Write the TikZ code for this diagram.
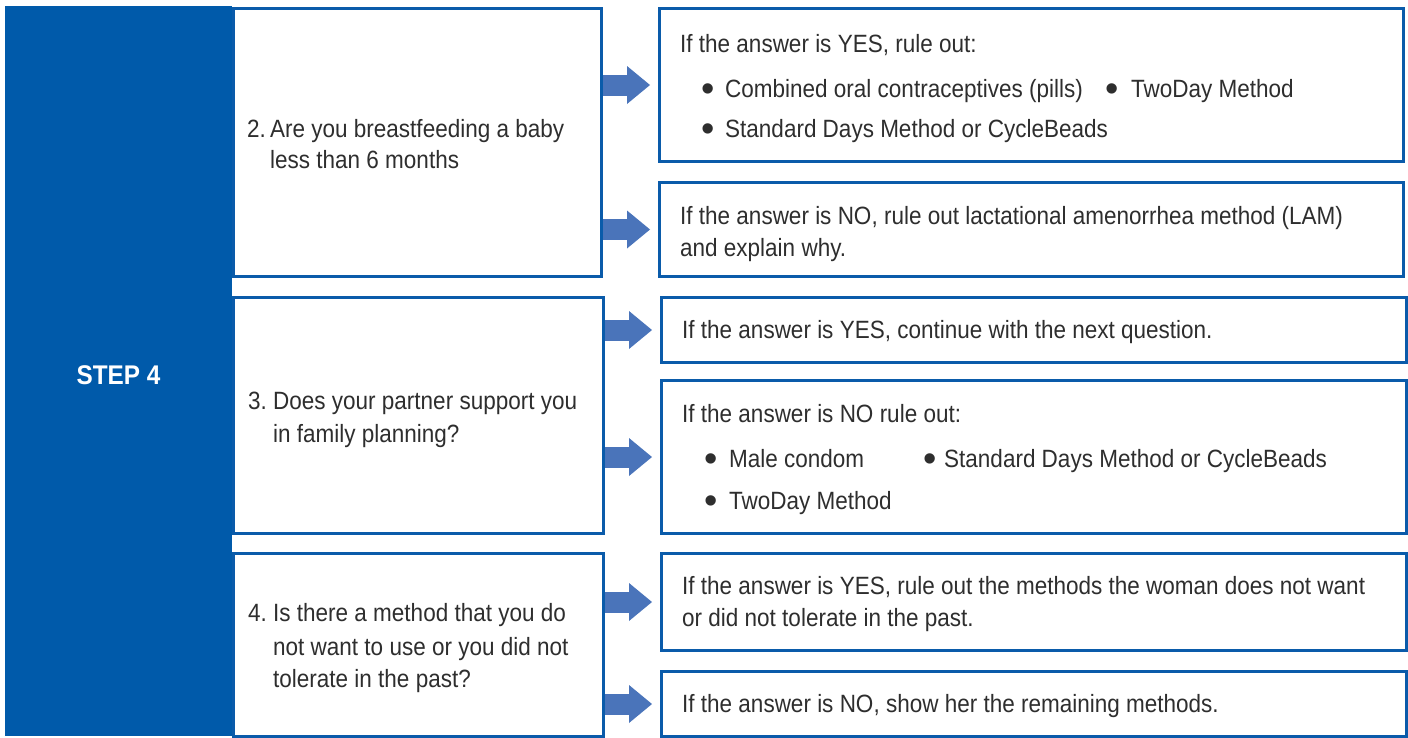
\documentclass[tikz,border=0pt]{standalone}
\usepackage{fontspec}
\setmainfont{Liberation Sans}[FakeStretch=0.9]
\newfontfamily\bulletfont{Liberation Sans}
\usetikzlibrary{arrows.meta}
\definecolor{panelblue}{HTML}{005AAA}
\definecolor{lineblue}{HTML}{0A5BAA}
\definecolor{arrowblue}{HTML}{4A74BA}
\definecolor{txtgray}{HTML}{2E2E2E}
\begin{document}
\begin{tikzpicture}[x=1pt,y=-1pt,
  box/.style={draw=lineblue, line width=3pt, fill=white, inner sep=0pt, anchor=north west},
  txt/.style={inner sep=0pt, anchor=base west, text=txtgray, font=\fontsize{25}{30}\selectfont},
  bul/.style={inner sep=0pt, anchor=base, text=txtgray, font=\bulletfont\fontsize{38}{38}\selectfont, yshift=-13.3pt},
  bigarrow/.style={draw=arrowblue, line width=21pt, -{Triangle[width=38pt,length=23pt,line width=0pt]}}]
\useasboundingbox (0,0) rectangle (1408,737);
% left panel
\node[fill=panelblue, inner sep=0pt, anchor=north west, minimum width=227pt, minimum height=730pt] (panel) at (5,6) {};
\node[inner sep=0pt, anchor=base, text=white, font=\fontsize{27}{30}\selectfont\bfseries] (step) at (118.5,384) {STEP 4};
% question boxes
\node[box, minimum width=368pt, minimum height=268pt] (q2) at (232,7) {};
\node[box, minimum width=370pt, minimum height=236pt] (q3) at (232,296) {};
\node[box, minimum width=370pt, minimum height=183pt] (q4) at (232,552) {};
% answer boxes
\node[box, minimum width=744pt, minimum height=153pt] (r1) at (658,7) {};
\node[box, minimum width=744pt, minimum height=94pt] (r2) at (658,181) {};
\node[box, minimum width=745pt, minimum height=65pt] (r3) at (660,296) {};
\node[box, minimum width=745pt, minimum height=153pt] (r4) at (660,379) {};
\node[box, minimum width=745pt, minimum height=97pt] (r5) at (660,552) {};
\node[box, minimum width=745pt, minimum height=65pt] (r6) at (660,670) {};
% arrows
\draw[bigarrow] (q2.east |- r1.west) -- ([xshift=-8pt]r1.west);
\draw[bigarrow] (q2.east |- r2.west) -- ([xshift=-8pt]r2.west);
\draw[bigarrow] (q3.east |- r3.west) -- ([xshift=-8pt]r3.west);
\draw[bigarrow] (q3.east |- r4.west) -- ([xshift=-8pt]r4.west);
\draw[bigarrow] (q4.east |- r5.west) -- ([xshift=-8pt]r5.west);
\draw[bigarrow] (q4.east |- r6.west) -- ([xshift=-8pt]r6.west);
% question texts
\node[txt] (q2n) at (247,137) {2.};
\node[txt] (q2a) at (270,137) {Are you breastfeeding a baby};
\node[txt] (q2b) at (270,168) {less than 6 months};
\node[txt] (q3n) at (248,409) {3.};
\node[txt] (q3a) at (273,409) {Does your partner support you};
\node[txt] (q3b) at (273,442) {in family planning?};
\node[txt] (q4n) at (248,621) {4.};
\node[txt] (q4a) at (273,621) {Is there a method that you do};
\node[txt] (q4b) at (273,655) {not want to use or you did not};
\node[txt] (q4c) at (273,687) {tolerate in the past?};
% answer texts
\node[txt] (r1t) at (680,52) {If the answer is YES, rule out:};
\node[bul] (r1b1) at (708.5,88.3) {•};
\node[txt] (r1a) at (725,97) {Combined oral contraceptives (pills)};
\node[bul] (r1b2) at (1112,88.3) {•};
\node[txt] (r1c) at (1131,97) {TwoDay Method};
\node[bul] (r1b3) at (708.5,128.3) {•};
\node[txt] (r1d) at (725,137) {Standard Days Method or CycleBeads};
\node[txt] (r2a) at (680,224) {If the answer is NO, rule out lactational amenorrhea method (LAM)};
\node[txt] (r2b) at (680,256) {and explain why.};
\node[txt] (r3a) at (682,338) {If the answer is YES, continue with the next question.};
\node[txt] (r4t) at (682,422) {If the answer is NO rule out:};
\node[bul] (r4b1) at (711,458.3) {•};
\node[txt] (r4a) at (729,467) {Male condom};
\node[bul] (r4b2) at (930.5,458.3) {•};
\node[txt] (r4c) at (944,467) {Standard Days Method or CycleBeads};
\node[bul] (r4b3) at (711,500.3) {•};
\node[txt] (r4d) at (729,509) {TwoDay Method};
\node[txt] (r5a) at (682,594) {If the answer is YES, rule out the methods the woman does not want};
\node[txt] (r5b) at (682,626) {or did not tolerate in the past.};
\node[txt] (r6a) at (682,712) {If the answer is NO, show her the remaining methods.};
\end{tikzpicture}
\end{document}
